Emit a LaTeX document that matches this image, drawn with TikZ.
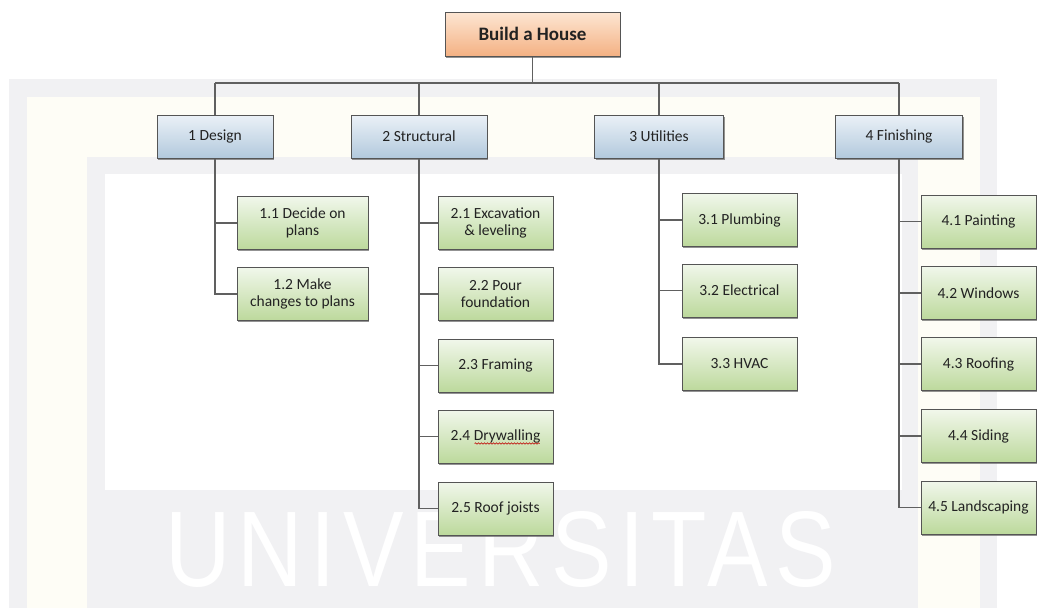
\documentclass[tikz,border=0pt]{standalone}
\usepackage{fontspec}
\setmainfont{Carlito}
\newfontfamily\wmfont[LetterSpace=8]{Liberation Sans}
\usetikzlibrary{shadows,decorations.pathmorphing}
\definecolor{bordc}{HTML}{555555}
\definecolor{linkc}{HTML}{606060}
\definecolor{textc}{HTML}{222222}
\definecolor{rootTop}{HTML}{FDE6D3}
\definecolor{rootBot}{HTML}{F4B183}
\definecolor{blueTop}{HTML}{EBF1F7}
\definecolor{blueBot}{HTML}{B2C9DD}
\definecolor{greenTop}{HTML}{F1F7EB}
\definecolor{greenBot}{HTML}{BCD99C}
\definecolor{wmgray}{HTML}{F1F1F3}
\definecolor{wmcream}{HTML}{FEFDF6}
\begin{document}
\begin{tikzpicture}[x=1pt,y=-1pt,
  box/.style={draw=bordc, line width=1pt, rectangle, inner sep=2pt, align=center, text=textc,
    drop shadow={shadow xshift=1.3pt, shadow yshift=-1.6pt, fill=black!60, opacity=0.7}},
  rootbox/.style={box, top color=rootTop, bottom color=rootBot, minimum width=175pt, minimum height=44pt,
    font=\fontsize{19}{22}\selectfont\bfseries},
  lonebox/.style={box, top color=blueTop, bottom color=blueBot, minimum height=43pt,
    font=\fontsize{15.5}{17}\selectfont},
  ltwobox/.style={box, top color=greenTop, bottom color=greenBot, minimum width=115pt, minimum height=53pt,
    font=\fontsize{15.5}{17}\selectfont},
  link/.style={draw=linkc, line width=1.5pt}
]
\useasboundingbox (0,0) rectangle (1046,608);
\fill[white] (0,0) rectangle (1046,608);
% faint watermark background
\fill[wmgray] (9,79) rectangle (997,608);
\fill[wmcream] (27,97) rectangle (980,608);
\fill[wmgray] (87,157) rectangle (918,608);
\fill[white] (105,174) rectangle (902,490);
\node[inner sep=0pt, anchor=south west, text=white] (wm) at (165,588)
  {\resizebox{670pt}{75pt}{\wmfont UNIVERSITAS}};

% root and level 1
\node[rootbox] (root) at (532.5,34) {Build a House};
\node[lonebox, minimum width=116pt] (d1) at (215,136.5) {1 Design};
\node[lonebox, minimum width=136pt] (d2) at (419,136.5) {2 Structural};
\node[lonebox, minimum width=129pt] (d3) at (659,136.5) {3 Utilities};
\node[lonebox, minimum width=127pt] (d4) at (899,136.5) {4 Finishing};

% level 2
\node[ltwobox, minimum width=131pt] (c11) at (302.5,223) {1.1 Decide on\\plans};
\node[ltwobox, minimum width=131pt] (c12) at (302.5,294) {1.2 Make\\changes to plans};

\node[ltwobox] (c21) at (495.5,223) {2.1 Excavation\\\& leveling};
\node[ltwobox] (c22) at (495.5,294) {2.2 Pour\\foundation};
\node[ltwobox] (c23) at (495.5,365.5) {2.3 Framing};
\node[ltwobox] (c24) at (495.5,436.5) {2.4 Drywalling};
\node[ltwobox] (c25) at (495.5,508.5) {2.5 Roof joists};

\node[ltwobox] (c31) at (739.5,220) {3.1 Plumbing};
\node[ltwobox] (c32) at (739.5,290.5) {3.2 Electrical};
\node[ltwobox] (c33) at (739.5,364) {3.3 HVAC};

\node[ltwobox] (c41) at (978.5,221.5) {4.1 Painting};
\node[ltwobox] (c42) at (978.5,293) {4.2 Windows};
\node[ltwobox] (c43) at (978.5,364) {4.3 Roofing};
\node[ltwobox] (c44) at (978.5,436) {4.4 Siding};
\node[ltwobox] (c45) at (978.5,507.5) {4.5 Landscaping};

% spelling squiggle under "Drywalling"
\draw[red!75!black, line width=0.6pt, decorate, decoration={snake, amplitude=0.7pt, segment length=3pt}]
  ([shift={(-21pt,-7pt)}]c24.center) -- ([shift={(44pt,-7pt)}]c24.center);

% connectors
\coordinate (bus) at (0,83);
\draw[link] (root.south) -- (root.south |- bus);
\draw[link] (d1.north |- bus) -- (d4.north |- bus);
\foreach \n in {d1,d2,d3,d4} \draw[link] (\n.north) -- (\n.north |- bus);
\foreach \c in {c11,c12} \draw[link] (d1.south) |- (\c.west);
\foreach \c in {c21,c22,c23,c24,c25} \draw[link] (d2.south) |- (\c.west);
\foreach \c in {c31,c32,c33} \draw[link] (d3.south) |- (\c.west);
\foreach \c in {c41,c42,c43,c44,c45} \draw[link] (d4.south) |- (\c.west);
\end{tikzpicture}
\end{document}
